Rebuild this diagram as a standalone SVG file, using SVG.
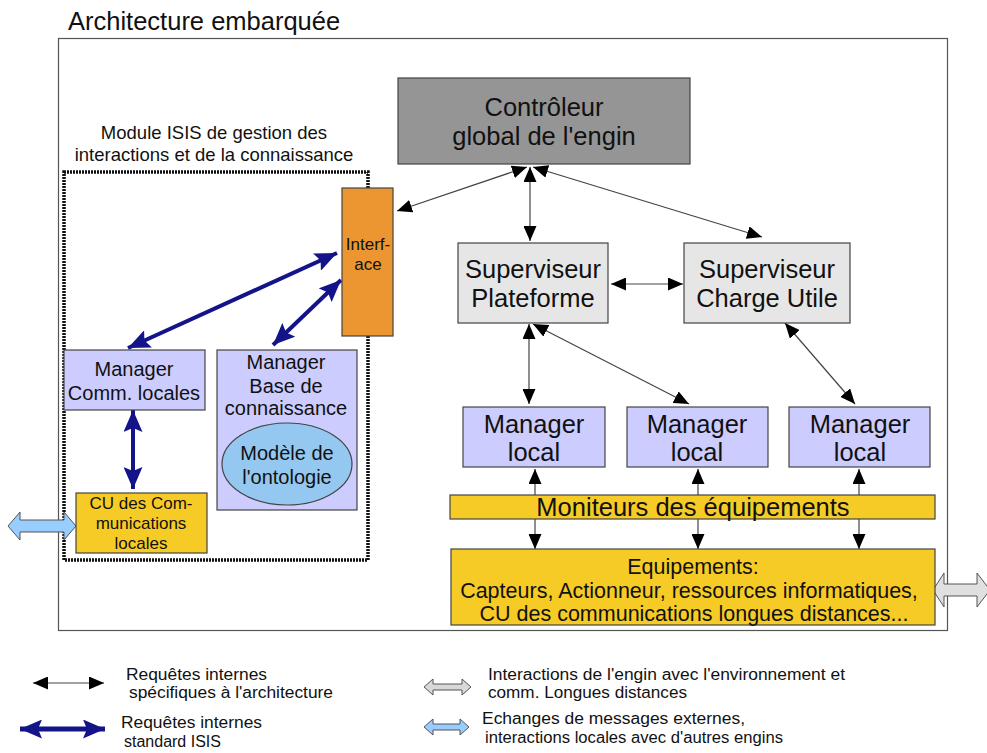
<svg xmlns="http://www.w3.org/2000/svg" width="987" height="753" viewBox="0 0 987 753">
  <defs>
    <style>
      text { font-family: "Liberation Sans", Arial, sans-serif; fill: #111; }
      .box { stroke: #444; stroke-width: 1.2; }
      .ctrl { fill: #959595; }
      .sup { fill: #e6e6e6; }
      .mgr { fill: #ccccff; }
      .yel { fill: #f7cb26; }
      .itf { fill: #eb9630; }
      .t25 { font-size: 25.5px; text-anchor: middle; }
      .t21 { font-size: 21.5px; text-anchor: middle; }
      .t20 { font-size: 20px; text-anchor: middle; }
      .t17 { font-size: 17px; text-anchor: middle; }
      .leg { font-size: 16px; }
      .req { fill: none; stroke: #444; stroke-width: 1.2; marker-start: url(#ah); marker-end: url(#ah); }
      .isis { fill: none; stroke: #14148a; stroke-width: 4; marker-start: url(#bh); marker-end: url(#bh); }
      .ext { stroke: #555; stroke-width: 1; }
    </style>
    <!-- black head for the architecture-specific requests -->
    <marker id="ah" markerUnits="userSpaceOnUse" markerWidth="16" markerHeight="13" refX="15" refY="6.5" orient="auto-start-reverse">
      <path d="M0,0 L15,6.5 L0,13 Z" fill="#000"/>
    </marker>
    <!-- navy head for the standard ISIS requests -->
    <marker id="bh" markerUnits="userSpaceOnUse" markerWidth="23" markerHeight="19" refX="22" refY="9.5" orient="auto-start-reverse">
      <path d="M0,0 L22,9.5 L0,19 L4,9.5 Z" fill="#14148a"/>
    </marker>
  </defs>

  <rect width="987" height="753" fill="#fff"/>

  <!-- title and outer frame -->
  <text x="68" y="30" style="font-size:25.5px">Architecture embarquée</text>
  <rect x="58.5" y="38.5" width="889" height="592" fill="none" stroke="#555" stroke-width="1.2"/>

  <!-- ISIS module -->
  <g id="module-isis">
    <text x="214" y="139" style="font-size:18.5px;text-anchor:middle">Module ISIS de gestion des</text>
    <text x="214" y="161" style="font-size:18.5px;text-anchor:middle">interactions et de la connaissance</text>
    <rect x="64" y="172" width="304" height="388" fill="none" stroke="#111" stroke-width="3.5" stroke-dasharray="2 1"/>
  </g>

  <!-- connectors -->
  <g id="connectors">
    <line class="req" x1="527" y1="167" x2="397" y2="211"/>
    <line class="req" x1="530" y1="167" x2="530" y2="241"/>
    <line class="req" x1="533" y1="167" x2="762" y2="237"/>
    <line class="req" x1="611" y1="284" x2="683" y2="284"/>
    <line class="req" x1="529" y1="324" x2="529" y2="404"/>
    <line class="req" x1="533" y1="324" x2="689" y2="404"/>
    <line class="req" x1="785" y1="323" x2="855" y2="404"/>
    <line class="req" x1="535" y1="469" x2="535" y2="549"/>
    <line class="req" x1="698" y1="469" x2="698" y2="549"/>
    <line class="req" x1="859" y1="469" x2="859" y2="549"/>

    <line class="isis" x1="128" y1="348" x2="337" y2="253"/>
    <line class="isis" x1="273" y1="345" x2="341" y2="280"/>
    <line class="isis" x1="133" y1="410" x2="133" y2="489"/>

    <!-- exchanges with the outside -->
    <path class="ext" fill="#99ccff" d="M8,526 L20,512 L20,520 L64,520 L64,512 L76,526 L64,540 L64,532 L20,532 L20,540 Z"/>
    <path class="ext" fill="#e0e0e0" d="M933,590 L944,573 L944,584 L977,584 L977,573 L990,590 L977,607 L977,596 L944,596 L944,607 Z"/>
  </g>

  <g id="controleur">
    <rect class="box ctrl" x="398" y="78" width="292" height="86"/>
    <text class="t25" x="544" y="116">Contrôleur</text>
    <text class="t25" x="544" y="145">global de l'engin</text>
  </g>

  <g id="interface">
    <rect class="box itf" x="342" y="188" width="51" height="148"/>
    <text class="t17" x="368" y="250">Interf-</text>
    <text class="t17" x="368" y="270">ace</text>
  </g>

  <g id="superviseur-plateforme">
    <rect class="box sup" x="458" y="243" width="150" height="80"/>
    <text class="t25" x="533" y="278">Superviseur</text>
    <text class="t25" x="533" y="307">Plateforme</text>
  </g>

  <g id="superviseur-charge">
    <rect class="box sup" x="684" y="243" width="166" height="80"/>
    <text class="t25" x="767" y="278">Superviseur</text>
    <text class="t25" x="767" y="307">Charge Utile</text>
  </g>

  <g id="manager-comm">
    <rect class="box mgr" x="64" y="350" width="141" height="60"/>
    <text class="t20" x="134" y="376">Manager</text>
    <text class="t20" x="134" y="400">Comm. locales</text>
  </g>

  <g id="manager-base">
    <rect class="box mgr" x="217" y="350" width="140" height="160"/>
    <text class="t20" x="286" y="369">Manager</text>
    <text class="t20" x="286" y="393">Base de</text>
    <text class="t20" x="286" y="415">connaissance</text>
  </g>

  <g id="modele-ontologie">
    <ellipse cx="287" cy="464" rx="65" ry="41" fill="#94c8f0" stroke="#444" stroke-width="1.2"/>
    <text class="t20" x="287" y="460">Modèle de</text>
    <text class="t20" x="287" y="484">l'ontologie</text>
  </g>

  <g id="cu-comm-locales">
    <rect class="box yel" x="76" y="493" width="131" height="60"/>
    <text class="t17" x="141" y="509">CU des Com-</text>
    <text class="t17" x="141" y="529">munications</text>
    <text class="t17" x="141" y="549">locales</text>
  </g>

  <g id="manager-local-1">
    <rect class="box mgr" x="463" y="407" width="142" height="60"/>
    <text class="t25" x="534" y="433">Manager</text>
    <text class="t25" x="534" y="461">local</text>
  </g>

  <g id="manager-local-2">
    <rect class="box mgr" x="627" y="407" width="141" height="60"/>
    <text class="t25" x="697" y="433">Manager</text>
    <text class="t25" x="697" y="461">local</text>
  </g>

  <g id="manager-local-3">
    <rect class="box mgr" x="789" y="407" width="141" height="60"/>
    <text class="t25" x="860" y="433">Manager</text>
    <text class="t25" x="860" y="461">local</text>
  </g>

  <g id="moniteurs">
    <rect class="box yel" x="450" y="495" width="485" height="24"/>
    <text class="t25" x="693" y="516">Moniteurs des équipements</text>
  </g>

  <g id="equipements">
    <rect class="box yel" x="451" y="549" width="484" height="76"/>
    <text class="t21" x="693" y="574">Equipements:</text>
    <text class="t21" x="689" y="598">Capteurs, Actionneur, ressources informatiques,</text>
    <text class="t21" x="694" y="621">CU des communications longues distances...</text>
  </g>

  <!-- legend -->
  <g id="legende">
    <line x1="33" y1="683" x2="104" y2="683" stroke="#444" stroke-width="1.2" marker-start="url(#ah)" marker-end="url(#ah)"/>
    <text class="leg" x="126" y="680" textLength="141" lengthAdjust="spacingAndGlyphs">Requêtes internes</text>
    <text class="leg" x="129" y="698" textLength="204" lengthAdjust="spacingAndGlyphs">spécifiques à l'architecture</text>

    <line x1="20" y1="729" x2="105" y2="729" stroke="#14148a" stroke-width="5" marker-start="url(#bh)" marker-end="url(#bh)"/>
    <text class="leg" x="121" y="728" textLength="141" lengthAdjust="spacingAndGlyphs">Requêtes internes</text>
    <text class="leg" x="124" y="747">standard ISIS</text>

    <path class="ext" fill="#d8d8d8" d="M424,687 L433,679 L433,684 L462,684 L462,679 L471,687 L462,695 L462,690 L433,690 L433,695 Z"/>
    <text class="leg" x="488" y="680" textLength="357" lengthAdjust="spacingAndGlyphs">Interactions de l'engin avec l'environnement et</text>
    <text class="leg" x="488" y="698" textLength="199" lengthAdjust="spacingAndGlyphs">comm. Longues distances</text>

    <path class="ext" fill="#99ccff" d="M424,727 L433,719 L433,724 L460,724 L460,719 L469,727 L460,735 L460,730 L433,730 L433,735 Z"/>
    <text class="leg" x="482" y="724" textLength="263" lengthAdjust="spacingAndGlyphs">Echanges de messages externes,</text>
    <text class="leg" x="485" y="743" textLength="298" lengthAdjust="spacingAndGlyphs">interactions locales avec d'autres engins</text>
  </g>
</svg>
